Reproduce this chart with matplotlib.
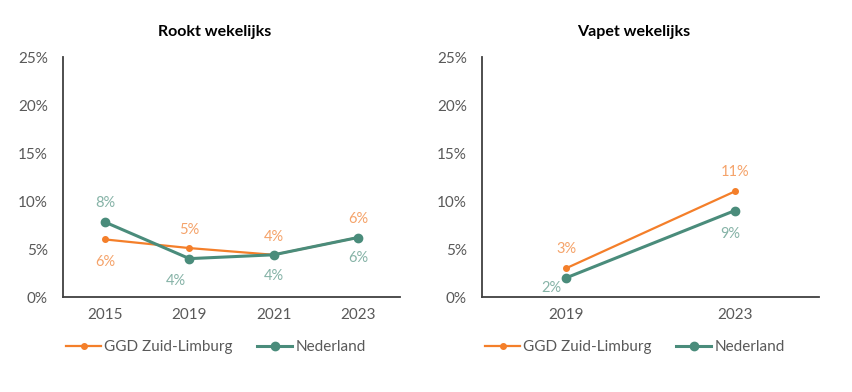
import matplotlib.pyplot as plt

plt.rcParams['font.family'] = ['Lato', 'DejaVu Sans']

# Rookt wekelijks
smoke_years = ['2015', '2019', '2021', '2023']
smoke_ggd = [6.0, 5.1, 4.4, 6.2]
smoke_nl = [7.8, 4.0, 4.4, 6.2]
smoke_ggd_lbl = ['6%', '5%', '4%', '6%']
smoke_nl_lbl = ['8%', '4%', '4%', '6%']

# Vapet wekelijks
vape_years = ['2019', '2023']
vape_ggd = [3.0, 11.0]
vape_nl = [2.0, 9.0]
vape_ggd_lbl = ['3%', '11%']
vape_nl_lbl = ['2%', '9%']

ORANGE = '#F47F2A'
GREEN = '#4A8C7B'
ORANGE_TXT = '#F5A36A'
GREEN_TXT = '#86B3A7'
GREY = '#595959'

fig = plt.figure(figsize=(8.52, 3.92), dpi=100)
ax1 = fig.add_axes([0.074, 0.2423, 0.3955, 0.612])
ax2 = fig.add_axes([0.5657, 0.2423, 0.3955, 0.612])


def draw(ax, years, ggd, nl, ggd_lbl, nl_lbl, ggd_off, nl_off, title):
    x = list(range(len(years)))
    ax.plot(x, ggd, color=ORANGE, lw=1.6, marker='o', ms=4, label='GGD Zuid-Limburg', zorder=3)
    ax.plot(x, nl, color=GREEN, lw=2.2, marker='o', ms=6, label='Nederland', zorder=3)
    for i in x:
        ax.annotate(ggd_lbl[i], (i, ggd[i]), xytext=ggd_off[i], textcoords='offset points',
                    ha='center', va='center', color=ORANGE_TXT, fontsize=10.5)
        ax.annotate(nl_lbl[i], (i, nl[i]), xytext=nl_off[i], textcoords='offset points',
                    ha='center', va='center', color=GREEN_TXT, fontsize=10.5)
    ax.set_xlim(-0.5, len(years) - 0.5)
    ax.set_ylim(0, 25)
    ax.set_yticks([0, 5, 10, 15, 20, 25])
    ax.set_yticklabels([f'{v}%' for v in [0, 5, 10, 15, 20, 25]])
    ax.set_xticks(x)
    ax.set_xticklabels(years)
    ax.tick_params(length=0, labelsize=11, labelcolor=GREY, pad=8)
    ax.tick_params(axis='y', pad=11)
    for s in ['top', 'right']:
        ax.spines[s].set_visible(False)
    for s in ['left', 'bottom']:
        ax.spines[s].set_color('#404040')
        ax.spines[s].set_linewidth(1.3)
    ax.set_title(title, fontsize=11.5, fontweight='bold', pad=15, x=0.45)
    ax.legend(loc='center', bbox_to_anchor=(0.454, -0.21), ncol=2, frameon=False,
              fontsize=11, labelcolor=GREY, handlelength=2.3, handletextpad=0.2,
              columnspacing=1.6)


draw(ax1, smoke_years, smoke_ggd, smoke_nl, smoke_ggd_lbl, smoke_nl_lbl,
     [(0, -16), (0, 13), (0, 13), (0, 13)],
     [(0, 14), (-10, -16), (0, -15), (0, -15)],
     'Rookt wekelijks')
draw(ax2, vape_years, vape_ggd, vape_nl, vape_ggd_lbl, vape_nl_lbl,
     [(0, 14), (0, 14)],
     [(-11, -7), (-3, -17)],
     'Vapet wekelijks')

fig.savefig('out.png', dpi=100)
